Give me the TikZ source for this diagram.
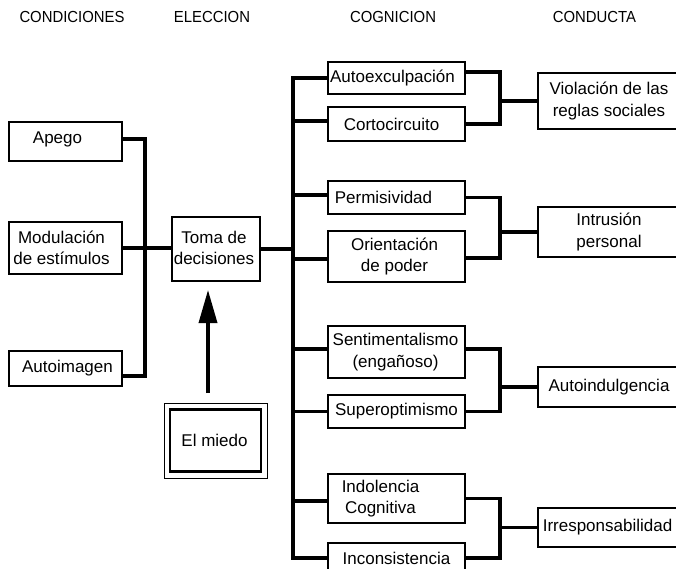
\documentclass[tikz,border=0pt]{standalone}
\usepackage{fontspec}
\setmainfont{Liberation Sans}
\usetikzlibrary{arrows.meta}
\tikzset{
  box/.style={draw, line width=1.6pt, inner sep=0pt},
  txt/.style={font=\fontsize{17}{21.5}\selectfont, align=center, inner sep=0pt},
  hdr/.style={font=\fontsize{16}{19}\selectfont, inner sep=0pt, anchor=base},
  conn/.style={line width=3.5pt},
}
\newcommand{\hd}[1]{\scalebox{0.93}[1]{#1}}
\begin{document}
\begin{tikzpicture}[x=1pt,y=-1pt]
\clip (0,0) rectangle (676,569);
\fill[white] (0,0) rectangle (676,569);
% headers
\node[hdr] (h1) at (72,22.3) {\hd{CONDICIONES}};
\node[hdr] (h2) at (212,22.3) {\hd{ELECCION}};
\node[hdr] (h3) at (393,22.3) {\hd{COGNICION}};
\node[hdr] (h4) at (594.5,22.3) {\hd{CONDUCTA}};
% left boxes
\node[box, minimum width=113pt, minimum height=39pt, label={[txt,xshift=-8pt,yshift=2pt]center:Apego}] (apego) at (65.5,141.5) {};
\node[box, minimum width=113pt, minimum height=52pt, label={[txt,xshift=-4pt]center:Modulación\\de estímulos}] (modul) at (65.5,248) {};
\node[box, minimum width=113pt, minimum height=35pt, label={[txt,xshift=2pt]center:Autoimagen}] (autoim) at (65.5,368.5) {};
% eleccion
\node[box, minimum width=88pt, minimum height=64pt, label={[txt,xshift=-2pt,yshift=1pt]center:Toma de\\decisiones}] (toma) at (216,249) {};
\node[draw, line width=1pt, minimum width=103pt, minimum height=75pt, inner sep=0pt] (miedo) at (215.5,440.5) {};
\node[draw, line width=2.2pt, minimum width=91pt, minimum height=62pt, inner sep=0pt, label={[txt,xshift=-1pt]center:El miedo}] (miedoin) at (215.5,440.5) {};
% cognicion boxes
\node[box, minimum width=137pt, minimum height=32pt, label={[txt,xshift=-4pt]center:Autoexculpación}] (autoex) at (396.5,78) {};
\node[box, minimum width=137pt, minimum height=34pt, label={[txt,xshift=-5pt]center:Cortocircuito}] (corto) at (396.5,124) {};
\node[box, minimum width=137pt, minimum height=33pt, label={[txt,xshift=-13pt]center:Permisividad}] (permis) at (396.5,197.5) {};
\node[box, minimum width=137pt, minimum height=51pt, label={[txt,xshift=-2pt]center:Orientación\\de poder}] (orient) at (396.5,256.5) {};
\node[box, minimum width=137pt, minimum height=52pt, label={[txt,xshift=-1pt]center:Sentimentalismo\\(engañoso)}] (sentim) at (396.5,352) {};
\node[box, minimum width=137pt, minimum height=33pt, label={[txt]center:Superoptimismo}] (superop) at (396.5,411.5) {};
\node[box, minimum width=137pt, minimum height=49pt, label={[txt,xshift=-16pt]center:Indolencia\\Cognitiva}] (indol) at (396.5,498.5) {};
\node[box, minimum width=137pt, minimum height=30pt, label={[txt]center:Inconsistencia}] (incons) at (396.5,558) {};
% conducta boxes
\node[box, minimum width=142pt, minimum height=56pt, label={[txt]center:Violación de las\\reglas sociales}] (viol) at (609,101) {};
\node[box, minimum width=142pt, minimum height=50pt, label={[txt]center:Intrusión\\personal}] (intrus) at (609,232) {};
\node[box, minimum width=142pt, minimum height=40pt, label={[txt]center:Autoindulgencia}] (autoind) at (609,387) {};
\node[box, minimum width=142pt, minimum height=39pt, label={[txt,xshift=-1.5pt]center:Irresponsabilidad}] (irresp) at (609,527.5) {};
% junction coordinates
\coordinate (jl) at (145,248);
\coordinate (ttop) at (293,78);
\coordinate (tbot) at (293,558);
\coordinate (r1) at (500,101);
\coordinate (r2) at (500,232);
\coordinate (r3) at (500,387);
\coordinate (r4) at (500,527.5);
\coordinate (as) at (208,393);
\coordinate (ae) at (208,290);
% left connectors
\draw[conn] ([yshift=2.5pt]apego.east) -| (jl) |- ([yshift=-7.5pt]autoim.east);
\draw[conn] (modul.east) -- (modul.east -| toma.west);
\draw[conn] (toma.east) -- (toma.east -| ttop);
% trunk
\draw[conn] (autoex.west) -- (ttop) -- (tbot) -- (incons.west);
\draw[conn] ([yshift=3pt]corto.west) -- ([yshift=3pt]corto.west -| ttop);
\draw[conn] ([yshift=2.5pt]permis.west) -- ([yshift=2.5pt]permis.west -| ttop);
\draw[conn] ([yshift=-2.5pt]orient.west) -- ([yshift=-2.5pt]orient.west -| ttop);
\draw[conn] ([yshift=3pt]sentim.west) -- ([yshift=3pt]sentim.west -| ttop);
\draw[conn] (superop.west) -- (superop.west -| ttop);
\draw[conn] ([yshift=-2.5pt]indol.west) -- ([yshift=-2.5pt]indol.west -| ttop);
% right connectors
\draw[conn] ([yshift=6pt]autoex.east) -| (r1) |- (corto.east);
\draw[conn] (r1) -- (viol.west);
\draw[conn] (permis.east) -| (r2) |- ([yshift=-1.5pt]orient.east);
\draw[conn] (r2) -- (intrus.west);
\draw[conn] ([yshift=3pt]sentim.east) -| (r3) |- (superop.east);
\draw[conn] (r3) -- (autoind.west);
\draw[conn] (indol.east) -| (r4) |- (incons.east);
\draw[conn] (r4) -- (irresp.west);
% arrow
\draw[conn, -{Triangle[length=33pt,width=18pt]}] (as) -- (ae);
\end{tikzpicture}
\end{document}
